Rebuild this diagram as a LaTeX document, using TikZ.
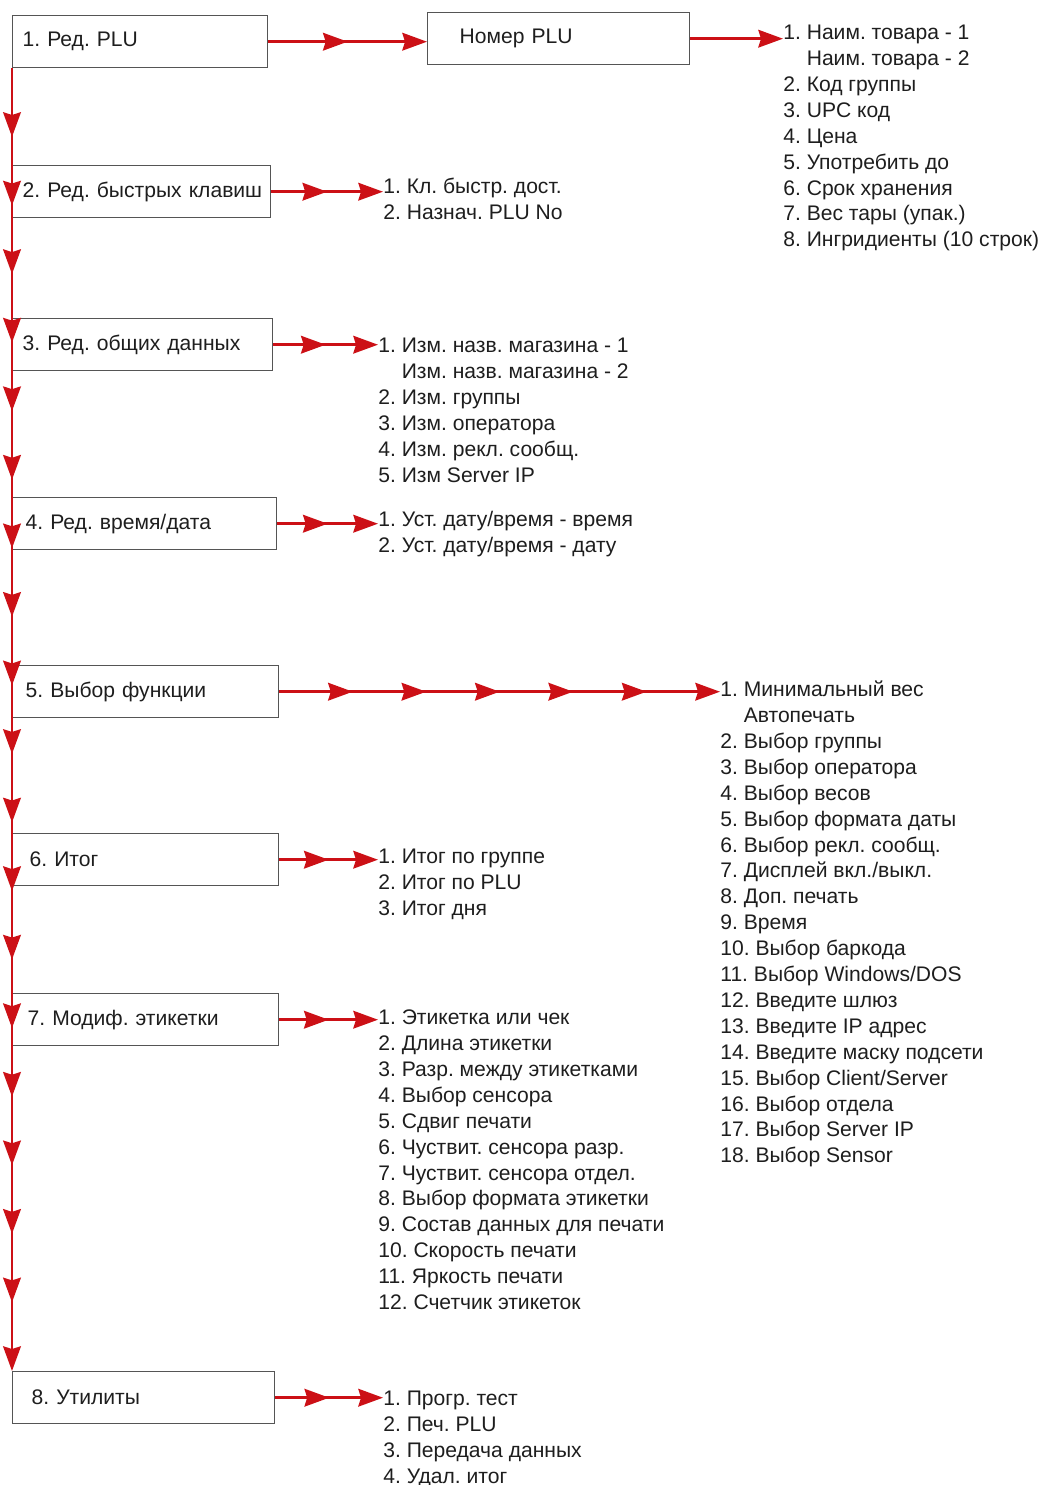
\documentclass[tikz,border=0pt]{standalone}
\usepackage{fontspec}
\setmainfont{Liberation Sans}
\usepackage{xcolor}
\usepackage{tikz}
\usetikzlibrary{arrows.meta,positioning,calc,decorations.markings}
\definecolor{flowred}{RGB}{204,16,22}
\definecolor{framegray}{RGB}{85,85,85}
\definecolor{inkgray}{RGB}{30,30,30}
\newcommand{\menulines}[1]{\begin{tabular}[t]{@{}l@{}}#1\end{tabular}}
\frenchspacing

\begin{document}
\begin{tikzpicture}[
    x=0.02cm, y=-0.02cm,
    menubox/.style={rectangle, draw=framegray, line width=0.8pt, anchor=north west, minimum height=1.04cm, text width=#1, inner xsep=0.2cm, align=left, font=\fontsize{12pt}{14.74pt}\selectfont, text=inkgray},
    menubox/.default=4.84cm,
    sublist/.style={anchor=mid west, inner sep=0pt, font=\fontsize{12pt}{14.74pt}\selectfont, text=inkgray},
    flow/.style={line width=1.7pt, flowred, -{Stealth[length=14pt, width=10pt, inset=1.5pt]}},
    heads/.style={postaction={decorate}, decoration={markings, mark=between positions #1 and 0.97 step #1 with {\arrow{Stealth[length=14pt, width=10pt, inset=1.5pt]}}}}
]
    \useasboundingbox (0,0) rectangle (1046,1485);

    \node[menubox=4.7cm] (plu) at (12,15) {1. Ред. PLU};
    \node[menubox=3.96cm, inner xsep=0.64cm] (nomer) at (427,12) {Номер PLU};
    \node[menubox=4.76cm] (keys) at (12,165) {\mbox{2. Ред. быстрых клавиш}};
    \node[menubox=4.8cm] (common) at (12,318) {3. Ред. общих данных};
    \node[menubox, inner xsep=0.26cm, text width=4.76cm] (clock) at (12,497) {4. Ред. время/дата};
    \node[menubox, inner xsep=0.26cm, text width=4.8cm] (func) at (12,665) {5. Выбор функции};
    \node[menubox, inner xsep=0.34cm, text width=4.64cm] (total) at (12,833) {6. Итог};
    \node[menubox, inner xsep=0.3cm, text width=4.72cm] (labels) at (12,993) {7. Модиф. этикетки};
    \node[menubox, inner xsep=0.38cm, text width=4.48cm] (util) at (12,1371) {8. Утилиты};

    \node[sublist] (plulist) at (783,35) {\menulines{1. Наим. товара - 1\\ \phantom{1. }Наим. товара - 2\\ 2. Код группы\\ 3. UPC код\\ 4. Цена\\ 5. Употребить до\\ 6. Срок хранения\\ 7. Вес тары (упак.)\\ 8. Ингридиенты (10 строк)}};
    \node[sublist] (keyslist) at (383,189) {\menulines{1. Кл. быстр. дост.\\ 2. Назнач. PLU No}};
    \node[sublist] (commonlist) at (378,348) {\menulines{1. Изм. назв. магазина - 1\\ \phantom{1. }Изм. назв. магазина - 2\\ 2. Изм. группы\\ 3. Изм. оператора\\ 4. Изм. рекл. сообщ.\\ 5. Изм Server IP}};
    \node[sublist] (clocklist) at (378,522) {\menulines{1. Уст. дату/время - время\\ 2. Уст. дату/время - дату}};
    \node[sublist] (funclist) at (720,692) {\menulines{1. Минимальный вес\\ \phantom{1. }Автопечать\\ 2. Выбор группы\\ 3. Выбор оператора\\ 4. Выбор весов\\ 5. Выбор формата даты\\ 6. Выбор рекл. сообщ.\\ 7. Дисплей вкл./выкл.\\ 8. Доп. печать\\ 9. Время\\ 10. Выбор баркода\\ 11. Выбор Windows/DOS\\ 12. Введите шлюз\\ 13. Введите IP адрес\\ 14. Введите маску подсети\\ 15. Выбор Client/Server\\ 16. Выбор отдела\\ 17. Выбор Server IP\\ 18. Выбор Sensor}};
    \node[sublist] (totallist) at (378,859) {\menulines{1. Итог по группе\\ 2. Итог по PLU\\ 3. Итог дня}};
    \node[sublist] (labellist) at (378,1020) {\menulines{1. Этикетка или чек\\ 2. Длина этикетки\\ 3. Разр. между этикетками\\ 4. Выбор сенсора\\ 5. Сдвиг печати\\ 6. Чуствит. сенсора разр.\\ 7. Чуствит. сенсора отдел.\\ 8. Выбор формата этикетки\\ 9. Состав данных для печати\\ 10. Скорость печати\\ 11. Яркость печати\\ 12. Счетчик этикеток}};
    \node[sublist] (utillist) at (383,1401) {\menulines{1. Прогр. тест\\ 2. Печ. PLU\\ 3. Передача данных\\ 4. Удал. итог}};

    \draw[flow, heads=0.05263] (plu.south west) -- (util.north west);

    \draw[flow, heads=0.5] (plu.east) -- (plu.east -| nomer.west);
    \draw[flow] (nomer.east) -- (nomer.east -| plulist.west);
    \draw[flow, heads=0.5] (keys.east) -- (keys.east -| keyslist.west);
    \draw[flow, heads=0.5] (common.east) -- (common.east -| commonlist.west);
    \draw[flow, heads=0.5] (clock.east) -- (clock.east -| clocklist.west);
    \draw[flow, heads=0.16667] (func.east) -- (func.east -| funclist.west);
    \draw[flow, heads=0.5] (total.east) -- (total.east -| totallist.west);
    \draw[flow, heads=0.5] (labels.east) -- (labels.east -| labellist.west);
    \draw[flow, heads=0.5] (util.east) -- (util.east -| utillist.west);
\end{tikzpicture}
\end{document}
